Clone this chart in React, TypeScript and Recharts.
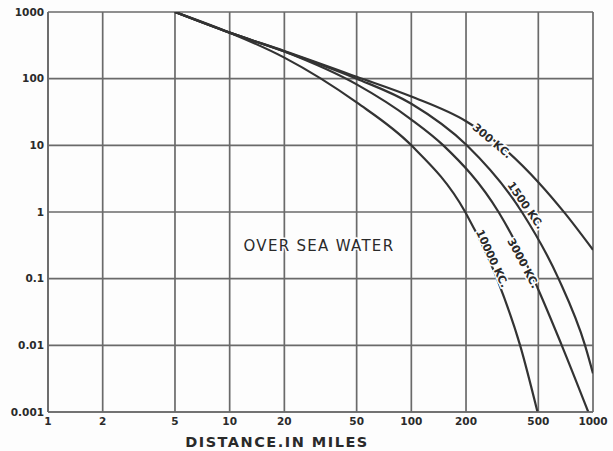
import React from 'react';
import { LineChart, Line, XAxis, YAxis, CartesianGrid, ReferenceDot } from 'recharts';

// distance ticks (miles) and field-strength ticks
const distTicks = [1, 2, 5, 10, 20, 50, 100, 200, 500, 1000];
const fieldTicks = [0.001, 0.01, 0.1, 1, 10, 100, 1000];

// 300 kc
const dist300 = [5, 10, 20, 50, 100, 200, 302, 500, 700, 1000];
const field300 = [1000, 490, 260, 107, 54, 23, 10.5, 2.8, 0.96, 0.27];

// 1500 kc
const dist1500 = [5, 10, 20, 50, 100, 202, 406, 646, 904, 1000];
const field1500 = [1000, 490, 255, 100, 42, 10, 1, 0.1, 0.01, 0.0038];

// 3000 kc
const dist3000 = [5, 10, 20, 50, 100, 150, 302, 470, 673, 942];
const field3000 = [1000, 490, 255, 82, 24.4, 10, 1, 0.1, 0.01, 0.001];

// 10000 kc
const dist10000 = [5, 10, 20, 50, 100, 198, 296, 397, 495];
const field10000 = [1000, 490, 207, 44, 10, 1, 0.1, 0.01, 0.001];

const curveNames = ['300 KC.', '1500 KC.', '3000 KC.', '10000 KC.'];
const labelDist = [278, 425, 412, 278];
const labelField = [11.6, 1.25, 0.17, 0.2];
const labelAngle = [40, 55, 62, 65];

const toPoints = (xs: number[], ys: number[]) => xs.map((d, i) => ({ d, v: ys[i] }));

const series = [
  toPoints(dist300, field300),
  toPoints(dist1500, field1500),
  toPoints(dist3000, field3000),
  toPoints(dist10000, field10000),
];

const INK = '#333';
const GRID = '#6a6a6a';
const BG = '#fdfdfd';
const FONT = '"DejaVu Sans", sans-serif';

const fmt = (v: number) => String(v);

export default function App() {
  return (
    <div style={{ position: 'absolute', left: 0, top: 0, width: 613, height: 451, background: BG }}>
      <LineChart width={613} height={451} margin={{ top: 12, right: 20, bottom: 0, left: 0 }}>
        <CartesianGrid stroke={GRID} strokeWidth={1.7} />
        <XAxis
          dataKey="d"
          type="number"
          scale="log"
          domain={[1, 1000]}
          ticks={distTicks}
          allowDataOverflow
          tickFormatter={fmt}
          height={39}
          tickSize={0}
          tickMargin={6}
          axisLine={{ stroke: GRID, strokeWidth: 1.7 }}
          tick={{ fill: '#2a2a2a', fontSize: 10.5, fontWeight: 700, fontFamily: FONT }}
          label={{
            content: (p: any) => (
              <text
                x={p.viewBox.x + 229}
                y={p.viewBox.y + 35}
                textAnchor="middle"
                fill="#2a2a2a"
                fontSize={14.5}
                fontWeight={600}
                letterSpacing={1.5}
                fontFamily={FONT}
              >
                DISTANCE.IN MILES
              </text>
            ),
          }}
        />
        <YAxis
          dataKey="v"
          type="number"
          scale="log"
          domain={[0.001, 1000]}
          ticks={fieldTicks}
          allowDataOverflow
          tickFormatter={fmt}
          width={48}
          tickSize={0}
          tickMargin={4}
          axisLine={{ stroke: GRID, strokeWidth: 1.7 }}
          tick={{ fill: '#2a2a2a', fontSize: 10.5, fontWeight: 700, fontFamily: FONT }}
        />
        {series.map((s, i) => (
          <Line
            key={curveNames[i]}
            data={s}
            dataKey="v"
            type="monotone"
            stroke={INK}
            strokeWidth={2.2}
            dot={false}
            isAnimationActive={false}
          />
        ))}
        {curveNames.map((name, i) => (
          <ReferenceDot
            key={'lbl' + name}
            x={labelDist[i]}
            y={labelField[i]}
            ifOverflow="visible"
            shape={(p: any) => (
              <text
                x={p.cx}
                y={p.cy}
                transform={`rotate(${labelAngle[i]} ${p.cx} ${p.cy})`}
                textAnchor="middle"
                dominantBaseline="central"
                fill="#2a2a2a"
                fontSize={11}
                fontWeight={700}
                fontFamily={FONT}
                stroke={BG}
                strokeWidth={3}
                paintOrder="stroke"
              >
                {name}
              </text>
            )}
          />
        ))}
        <ReferenceDot
          x={31}
          y={0.31}
          ifOverflow="visible"
          shape={(p: any) => (
            <text
              x={p.cx}
              y={p.cy}
              textAnchor="middle"
              dominantBaseline="central"
              fill="#2a2a2a"
              fontSize={15}
              fontWeight={500}
              letterSpacing={1.3}
              fontFamily={FONT}
              stroke={BG}
              strokeWidth={3}
              paintOrder="stroke"
            >
              OVER SEA WATER
            </text>
          )}
        />
      </LineChart>
    </div>
  );
}
